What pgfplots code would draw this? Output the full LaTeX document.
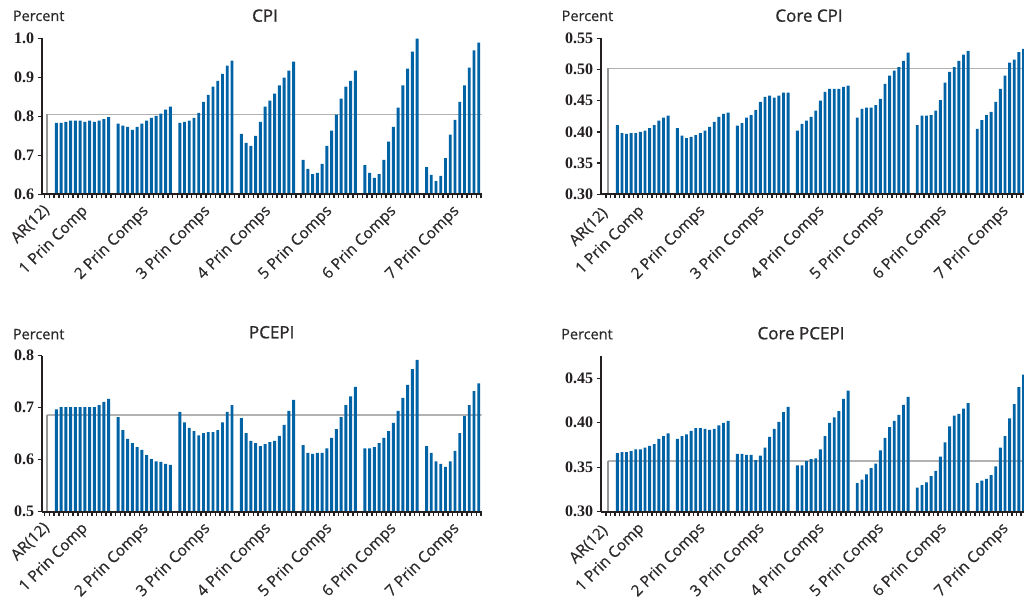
\documentclass[border=0pt]{standalone}
\usepackage{pgfplots}
\pgfplotsset{compat=1.18}
\usepackage{pgfplotstable}
\usepackage{fontspec}
\setmainfont{Open Sans}
\newfontfamily\tickfont{Liberation Serif}
\newfontfamily\labfont[FakeBold=0.6]{Open Sans}
\newfontfamily\titfont[FakeBold=1.2]{Open Sans}
\definecolor{barblue}{RGB}{0,99,166}
\definecolor{argray}{RGB}{150,150,150}
\definecolor{arline}{RGB}{178,178,178}
\definecolor{axisblack}{RGB}{35,31,32}
\definecolor{txt}{RGB}{45,42,42}

\pgfplotstableread{
g1 g2 g3 g4 g5 g6 g7
0.783 0.781 0.783 0.755 0.688 0.675 0.670
0.783 0.776 0.786 0.732 0.665 0.655 0.650
0.786 0.773 0.789 0.724 0.652 0.642 0.634
0.789 0.765 0.796 0.750 0.655 0.652 0.647
0.789 0.773 0.809 0.786 0.678 0.688 0.693
0.789 0.781 0.837 0.825 0.724 0.735 0.753
0.786 0.789 0.855 0.840 0.763 0.773 0.791
0.789 0.796 0.876 0.858 0.804 0.822 0.837
0.786 0.801 0.891 0.879 0.845 0.879 0.879
0.789 0.807 0.909 0.899 0.876 0.922 0.925
0.793 0.817 0.930 0.917 0.891 0.966 0.969
0.798 0.825 0.943 0.940 0.917 0.999 0.989
}\cpi

\pgfplotstableread{
g1 g2 g3 g4 g5 g6 g7
0.411 0.406 0.410 0.402 0.423 0.411 0.405
0.398 0.394 0.414 0.413 0.437 0.426 0.419
0.397 0.390 0.423 0.418 0.439 0.426 0.427
0.398 0.392 0.427 0.424 0.439 0.427 0.432
0.398 0.395 0.435 0.434 0.443 0.434 0.448
0.400 0.398 0.448 0.450 0.453 0.451 0.469
0.402 0.402 0.456 0.464 0.477 0.479 0.490
0.406 0.408 0.458 0.469 0.490 0.496 0.511
0.411 0.416 0.455 0.469 0.498 0.504 0.516
0.418 0.424 0.458 0.469 0.504 0.514 0.528
0.423 0.429 0.463 0.472 0.514 0.524 0.533
0.426 0.431 0.463 0.474 0.527 0.530 0.540
}\corecpi

\pgfplotstableread{
g1 g2 g3 g4 g5 g6 g7
0.697 0.682 0.692 0.680 0.628 0.622 0.626
0.701 0.657 0.672 0.651 0.613 0.622 0.613
0.701 0.640 0.661 0.636 0.611 0.624 0.597
0.701 0.632 0.655 0.632 0.613 0.632 0.592
0.701 0.624 0.647 0.626 0.613 0.642 0.586
0.701 0.619 0.651 0.630 0.622 0.655 0.597
0.701 0.609 0.653 0.634 0.642 0.671 0.617
0.701 0.601 0.653 0.636 0.659 0.694 0.651
0.701 0.597 0.657 0.646 0.682 0.719 0.684
0.705 0.596 0.672 0.667 0.705 0.744 0.705
0.711 0.592 0.692 0.694 0.722 0.774 0.732
0.717 0.590 0.705 0.715 0.740 0.792 0.747
}\pcepi

\pgfplotstableread{
g1 g2 g3 g4 g5 g6 g7
0.366 0.382 0.365 0.352 0.332 0.327 0.332
0.367 0.385 0.365 0.352 0.336 0.330 0.335
0.367 0.387 0.364 0.357 0.342 0.333 0.337
0.368 0.391 0.364 0.359 0.349 0.340 0.341
0.370 0.394 0.358 0.360 0.354 0.346 0.351
0.370 0.394 0.363 0.370 0.369 0.362 0.372
0.372 0.393 0.372 0.385 0.383 0.378 0.385
0.374 0.392 0.384 0.400 0.395 0.396 0.405
0.376 0.393 0.393 0.406 0.402 0.408 0.421
0.382 0.397 0.401 0.413 0.409 0.410 0.440
0.385 0.400 0.412 0.427 0.420 0.416 0.454
0.388 0.402 0.418 0.436 0.429 0.422 0.462
}\corepcepi

\newcommand\groups[1]{%
  \addplot[bars] table[x expr=\coordindex+2,  y=g1]{#1};
  \addplot[bars] table[x expr=\coordindex+15, y=g2]{#1};
  \addplot[bars] table[x expr=\coordindex+28, y=g3]{#1};
  \addplot[bars] table[x expr=\coordindex+41, y=g4]{#1};
  \addplot[bars] table[x expr=\coordindex+54, y=g5]{#1};
  \addplot[bars] table[x expr=\coordindex+67, y=g6]{#1};
  \addplot[bars] table[x expr=\coordindex+80, y=g7]{#1};
}
\newcommand\arbar[1]{%
  \addplot[draw=arline, line width=1.3pt] coordinates {(0,#1) (93,#1)};
  \addplot[ybar, bar width=0.48, bar shift=0pt, fill=argray, draw=none] coordinates {(0,#1)};
}

\pgfplotsset{
  bars/.style={ybar, bar width=0.62, bar shift=0pt, fill=barblue, draw=none},
  panel/.style={
    scale only axis, height=156pt, anchor=south west,
    axis lines*=left, axis on top,
    x axis line style={axisblack, line width=2.2pt},
    y axis line style={axisblack, line width=1.8pt},
    tick align=outside,
    minor xtick={-0.5,0.5,...,91.5},
    major x tick style={draw=none},
    minor x tick style={axisblack, line width=1.5pt},
    minor tick length=4pt,
    major tick length=4pt,
    y tick style={axisblack, line width=1.4pt},
    xticklabels={1 Prin Comp,2 Prin Comps,3 Prin Comps,4 Prin Comps,5 Prin Comps,6 Prin Comps,7 Prin Comps},
    xticklabel style={yshift=-5pt, rotate=45, anchor=north east, inner sep=0pt, font=\labfont\fontsize{15.5}{15.5}\selectfont, text=txt},
    extra x ticks={0},
    extra x tick labels={AR(12)},
    yticklabel style={font=\tickfont\bfseries\fontsize{16}{16}\selectfont, text=axisblack,
      /pgf/number format/.cd, fixed, fixed zerofill, assume math mode=true},
  },
  leftpanel/.style={panel, width=440pt, xmin=-1.1, xmax=91.63,
    xtick={7.0,19.8,32.8,45.6,58.5,72.0,85.3},
    extra x tick style={major tick length=0pt, xticklabel style={xshift=-6pt, yshift=1pt}}},
  rightpanel/.style={panel, width=430pt, xmin=-1.6, xmax=91.57,
    xtick={6.2,19.4,32.2,45.2,58.1,71.7,85.1},
    extra x tick style={major tick length=0pt, xticklabel style={xshift=-10pt, yshift=1pt}}},
}

\begin{document}
\begin{tikzpicture}[x=1pt,y=1pt]
\useasboundingbox (0,0) rectangle (1024,598);

\begin{axis}[leftpanel, at={(41.7pt,403.7pt)}, ymin=0.6, ymax=1.0,
  ytick={0.6,0.7,0.8,0.9,1.0}, yticklabel style={/pgf/number format/precision=1}]
  \arbar{0.805}
  \groups{\cpi}
\end{axis}

\begin{axis}[rightpanel, at={(600.7pt,403.7pt)}, ymin=0.30, ymax=0.55,
  ytick={0.30,0.35,0.40,0.45,0.50,0.55}, yticklabel style={/pgf/number format/precision=2}]
  \arbar{0.502}
  \groups{\corecpi}
\end{axis}

\begin{axis}[leftpanel, at={(41.7pt,86.3pt)}, ymin=0.5, ymax=0.8,
  ytick={0.5,0.6,0.7,0.8}, yticklabel style={/pgf/number format/precision=1}]
  \arbar{0.686}
  \groups{\pcepi}
\end{axis}

\begin{axis}[rightpanel, at={(600.7pt,86.3pt)}, ymin=0.30, ymax=0.4754,
  ytick={0.30,0.35,0.40,0.45}, yticklabel style={/pgf/number format/precision=2}]
  \arbar{0.357}
  \groups{\corepcepi}
\end{axis}

\begin{scope}[font=\labfont\fontsize{14.5}{14.5}\selectfont, text=txt]
  \node[anchor=base west, inner sep=0pt] at (12.7pt,577pt) {Percent};
  \node[anchor=base west, inner sep=0pt] at (561.5pt,577pt) {Percent};
  \node[anchor=base west, inner sep=0pt] at (12.7pt,258.7pt) {Percent};
  \node[anchor=base west, inner sep=0pt] at (561pt,258.7pt) {Percent};
\end{scope}
\begin{scope}[font=\titfont\fontsize{17}{17}\selectfont, text=txt]
  \node[anchor=base, inner sep=0pt] at (265pt,576.3pt) {CPI};
  \node[anchor=base, inner sep=0pt] at (809pt,576.3pt) {Core CPI};
  \node[anchor=base, inner sep=0pt] at (271.7pt,259.7pt) {PCEPI};
  \node[anchor=base, inner sep=0pt] at (801pt,258.7pt) {Core PCEPI};
\end{scope}
\end{tikzpicture}
\end{document}
